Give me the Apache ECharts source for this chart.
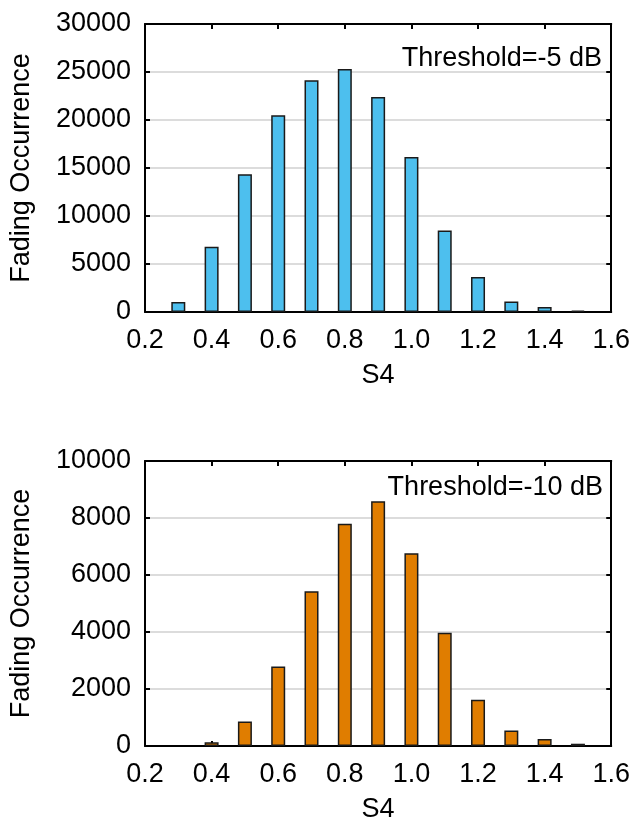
<!DOCTYPE html>
<html>
<head>
<meta charset="utf-8">
<script src="https://cdn.jsdelivr.net/npm/echarts@6/dist/echarts.min.js"></script>
<style>
  html, body { margin: 0; padding: 0; background: #fff; }
  #chart { width: 633px; height: 824px; }
</style>
</head>
<body>
<div id="chart"></div>
<script>
// S4 bin centres and fading counts
const s4Bins = [0.3, 0.4, 0.5, 0.6, 0.7, 0.8, 0.9, 1.0, 1.1, 1.2, 1.3, 1.4, 1.5]
const fade5 = [1050, 6800, 14350, 20500, 24150, 25300, 22400, 16150, 8500, 3650, 1100, 520, 150]
const fade10 = [null, 130, 860, 2790, 5430, 7800, 8590, 6760, 3970, 1620, 545, 245, 80]
const xTicks = [0.2, 0.4, 0.6, 0.8, 1.0, 1.2, 1.4, 1.6]
const yMax5 = 30000
const yMax10 = 10000

const font = "'Liberation Sans', Arial, sans-serif"
const fs = 27

const chart = echarts.init(document.getElementById('chart'))

const frameLine = { show: true, onZero: false, lineStyle: { color: '#000', width: 2 } }
const inTick = { show: true, inside: true, length: 5, lineStyle: { color: '#000', width: 2 } }

function xAxes (gridIndex) {
  const base = {
    type: 'value',
    gridIndex: gridIndex,
    min: xTicks[0],
    max: xTicks[xTicks.length - 1],
    interval: 0.2,
    axisLine: frameLine,
    axisTick: inTick,
    splitLine: { show: false }
  }
  return [
    Object.assign({}, base, {
      position: 'bottom',
      name: 'S4',
      nameLocation: 'middle',
      nameGap: 50,
      nameTextStyle: { fontSize: fs, color: '#000', fontFamily: font },
      axisLabel: {
        margin: 15,
        fontSize: fs,
        color: '#000',
        fontFamily: font,
        formatter: v => v.toFixed(1)
      }
    }),
    Object.assign({}, base, {
      position: 'top',
      axisLabel: { show: false }
    })
  ]
}

function yAxes (gridIndex, max, interval) {
  const base = {
    type: 'value',
    gridIndex: gridIndex,
    min: 0,
    max: max,
    interval: interval,
    axisLine: frameLine,
    axisTick: inTick
  }
  return [
    Object.assign({}, base, {
      position: 'left',
      name: 'Fading Occurrence',
      nameLocation: 'middle',
      nameGap: 110,
      nameTextStyle: { fontSize: fs, color: '#000', fontFamily: font },
      axisLabel: {
        margin: 14,
        fontSize: fs,
        color: '#000',
        fontFamily: font,
        formatter: v => String(v)
      },
      splitLine: { show: true, lineStyle: { color: '#dcdcdc', width: 2 } }
    }),
    Object.assign({}, base, {
      position: 'right',
      axisLabel: { show: false },
      splitLine: { show: false }
    })
  ]
}

const option = {
  animation: false,
  backgroundColor: '#fff',
  grid: [
    { left: 143, top: 24, width: 470, height: 288 },
    { left: 143, top: 461, width: 470, height: 287 }
  ],
  xAxis: [...xAxes(0), ...xAxes(1)],
  yAxis: [...yAxes(0, yMax5, 5000), ...yAxes(1, yMax10, 2000)],
  graphic: [
    {
      type: 'text',
      right: 31,
      top: 45,
      style: { text: 'Threshold=-5 dB', fontSize: fs, fill: '#000', fontFamily: font }
    },
    {
      type: 'text',
      right: 30,
      top: 474,
      style: { text: 'Threshold=-10 dB', fontSize: fs, fill: '#000', fontFamily: font }
    }
  ],
  series: [
    {
      type: 'bar',
      xAxisIndex: 0,
      yAxisIndex: 0,
      barWidth: 14,
      data: s4Bins.map((s, i) => [s, fade5[i]]),
      itemStyle: { color: '#4dbfee', borderColor: '#1a1a1a', borderWidth: 1.5 }
    },
    {
      type: 'bar',
      xAxisIndex: 2,
      yAxisIndex: 2,
      barWidth: 14,
      data: s4Bins.map((s, i) => [s, fade10[i]]),
      itemStyle: { color: '#e07d00', borderColor: '#1a1a1a', borderWidth: 1.5 }
    }
  ]
}

chart.setOption(option)
</script>
</body>
</html>
